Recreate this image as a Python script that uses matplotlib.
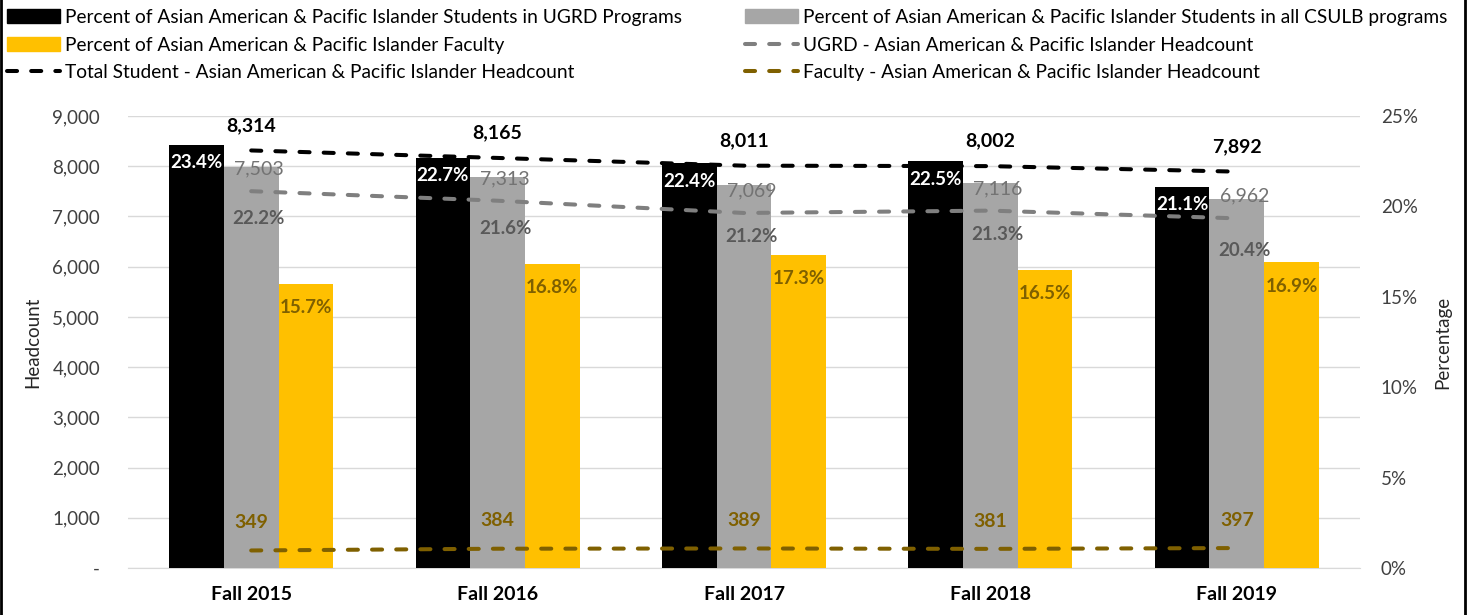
import matplotlib.pyplot as plt
from matplotlib.lines import Line2D
from matplotlib.patches import Patch
from matplotlib.ticker import FuncFormatter
import numpy as np

plt.rcParams['font.family'] = ['Lato', 'DejaVu Sans']

terms = ['Fall 2015', 'Fall 2016', 'Fall 2017', 'Fall 2018', 'Fall 2019']

# percentages (bars, right axis)
pct_ugrd = [23.4, 22.7, 22.4, 22.5, 21.1]
pct_all = [22.2, 21.6, 21.2, 21.3, 20.4]
pct_faculty = [15.7, 16.8, 17.3, 16.5, 16.9]

# headcounts (dashed lines, left axis)
hc_total = [8314, 8165, 8011, 8002, 7892]
hc_ugrd = [7503, 7313, 7069, 7116, 6962]
hc_faculty = [349, 384, 389, 381, 397]

BLACK = '#000000'
GRAY = '#a6a6a6'
GOLD = '#ffc000'
LINE_GRAY = '#7f7f7f'
DARK_GOLD = '#7f6000'
GRID = '#d9d9d9'

fig = plt.figure(figsize=(14.79, 6.15), dpi=100)
ax = fig.add_axes([128 / 1479, 1 - 568 / 615, 1232 / 1479, 452 / 615])

x = np.arange(len(terms))
w = 0.222

# headcount axis: grid + left labels
ax.set_xlim(-0.5, len(terms) - 0.5)
ax.set_ylim(0, 9000)
ax.set_yticks(np.arange(0, 9001, 1000))
ax.yaxis.set_major_formatter(FuncFormatter(lambda v, p: '-' if v == 0 else f'{int(v):,}'))
ax.grid(axis='y', color=GRID, lw=1)
ax.set_axisbelow(True)
ax.tick_params(axis='y', length=0, labelsize=13.5, pad=20, colors='#404040')
ax.tick_params(axis='x', length=0, labelsize=14, pad=13)
ax.set_xticks(x)
ax.set_xticklabels(terms, fontweight='bold')
for s in ['top', 'left', 'right']:
    ax.spines[s].set_visible(False)
ax.spines['bottom'].set_color(GRID)
ax.set_ylabel('Headcount', fontsize=13.5, labelpad=8, color='#262626')

# percentage axis with the bars
axp = ax.twinx()
axp.set_ylim(0, 25)
axp.set_yticks(np.arange(0, 26, 5))
axp.yaxis.set_major_formatter(FuncFormatter(lambda v, p: f'{int(v)}%'))
axp.tick_params(axis='y', length=0, labelsize=13.5, pad=15, colors='#404040')
for s in axp.spines.values():
    s.set_visible(False)
axp.set_ylabel('Percentage', fontsize=13.5, labelpad=12, color='#262626')

axp.bar(x - w, pct_ugrd, w, color=BLACK)
axp.bar(x, pct_all, w, color=GRAY)
axp.bar(x + w, pct_faculty, w, color=GOLD)

for xi, v in zip(x - w, pct_ugrd):
    axp.annotate(f'{v:.1f}%', (xi, v), xytext=(0, -13), textcoords='offset points',
                 ha='center', va='center', color='white', fontweight='bold', fontsize=13.5)
for xi, v in zip(x, pct_all):
    axp.annotate(f'{v:.1f}%', (xi + 0.03, v), xytext=(0, -37), textcoords='offset points',
                 ha='center', va='center', color='#595959', fontweight='bold', fontsize=13.5)
for xi, v in zip(x + w, pct_faculty):
    axp.annotate(f'{v:.1f}%', (xi, v), xytext=(0, -17), textcoords='offset points',
                 ha='center', va='center', color=DARK_GOLD, fontweight='bold', fontsize=13.5)

# lines on top of bars
axl = ax.twinx()
axl.set_ylim(0, 9000)
axl.set_yticks([])
for s in axl.spines.values():
    s.set_visible(False)

dash = dict(lw=2.9, dashes=(2.5, 3.5), dash_capstyle='round')
l1, = axl.plot(x, hc_total, color=BLACK, **dash)
l2, = axl.plot(x, hc_ugrd, color=LINE_GRAY, **dash)
l3, = axl.plot(x, hc_faculty, color=DARK_GOLD, **dash)

for xi, v in zip(x, hc_total):
    axl.annotate(f'{v:,}', (xi, v), xytext=(0, 18), textcoords='offset points',
                 ha='center', va='center', color=BLACK, fontweight='bold', fontsize=14)
for xi, v in zip(x, hc_ugrd):
    axl.annotate(f'{v:,}', (xi + 0.03, v), xytext=(0, 16), textcoords='offset points',
                 ha='center', va='center', color='#737373', fontsize=14)
for xi, v in zip(x, hc_faculty):
    axl.annotate(f'{v:,}', (xi, v), xytext=(0, 20), textcoords='offset points',
                 ha='center', va='center', color=DARK_GOLD, fontweight='bold', fontsize=14)

# legend, two columns
leg_kw = dict(loc='upper left', frameon=False, fontsize=13.8, handlelength=2.75,
              handletextpad=0.3, labelspacing=0.55, borderpad=0, borderaxespad=0,
              handleheight=0.75)
names_left = ['Percent of Asian American & Pacific Islander Students in UGRD Programs',
              'Percent of Asian American & Pacific Islander Faculty',
              'Total Student - Asian American & Pacific Islander Headcount']
names_right = ['Percent of Asian American & Pacific Islander Students in all CSULB programs',
               'UGRD - Asian American & Pacific Islander Headcount',
               'Faculty - Asian American & Pacific Islander Headcount']
fig.legend([Patch(color=BLACK), Patch(color=GOLD), l1], names_left,
           bbox_to_anchor=(7 / 1479, 1 - 9 / 615), **leg_kw)
fig.legend([Patch(color=GRAY), l2, l3], names_right,
           bbox_to_anchor=(745 / 1479, 1 - 9 / 615), **leg_kw)

# outer frame edges
fig.add_artist(Line2D([0.001, 0.001], [0, 1], color='black', lw=2, transform=fig.transFigure))
fig.add_artist(Line2D([1465 / 1479] * 2, [0, 1], color='black', lw=2, transform=fig.transFigure))

fig.savefig('out.png', dpi=100)
